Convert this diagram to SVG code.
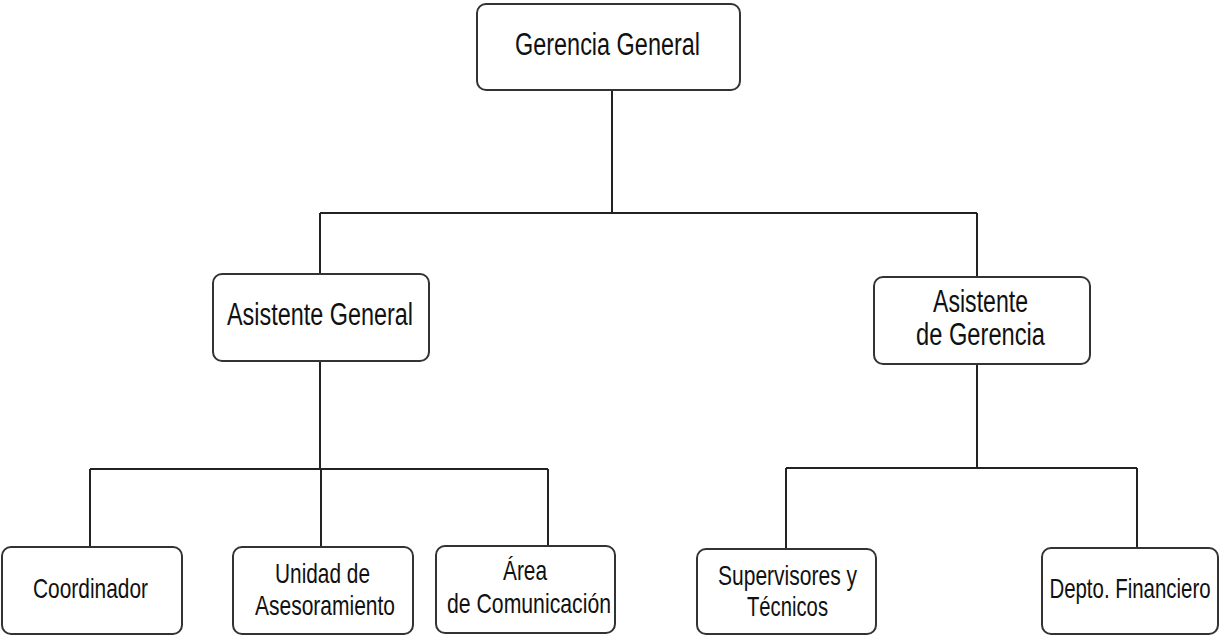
<svg xmlns="http://www.w3.org/2000/svg" width="1220" height="635" viewBox="0 0 1220 635">
<style>
.box{fill:#fff;stroke:#333;stroke-width:2}
.ln{fill:none;stroke:#222;stroke-width:2}
text{font-family:"Liberation Sans",Arial,sans-serif;fill:#111;text-anchor:middle}
.t1{font-size:31px}
.t2{font-size:28px}
</style>
<rect width="1220" height="635" fill="#fff"/>
<g id="connectors">
<path class="ln" d="M612 90V213M320 213H977M320 213V274M977 213V277"/>
<path class="ln" d="M320 361V469M90 469H548M90 469V547M321 469V547M548 469V546"/>
<path class="ln" d="M977 364V468M786 468H1137M786 468V549M1137 468V548"/>
</g>
<g id="gerencia-general">
<rect class="box" x="477" y="4" width="263" height="86" rx="9"/>
<text class="t1" x="607.5" y="55" textLength="185" lengthAdjust="spacingAndGlyphs">Gerencia General</text>
</g>
<g id="asistente-general">
<rect class="box" x="213" y="274" width="216" height="87" rx="9"/>
<text class="t1" x="320" y="325" textLength="186" lengthAdjust="spacingAndGlyphs">Asistente General</text>
</g>
<g id="asistente-gerencia">
<rect class="box" x="874" y="277" width="216" height="87" rx="9"/>
<text class="t1" x="980.5" y="312" textLength="95" lengthAdjust="spacingAndGlyphs">Asistente</text>
<text class="t1" x="980.5" y="345" textLength="129" lengthAdjust="spacingAndGlyphs">de Gerencia</text>
</g>
<g id="coordinador">
<rect class="box" x="2" y="547" width="180" height="87" rx="9"/>
<text class="t2" x="90.5" y="598" textLength="115" lengthAdjust="spacingAndGlyphs">Coordinador</text>
</g>
<g id="unidad-asesoramiento">
<rect class="box" x="233" y="547" width="180" height="87" rx="9"/>
<text class="t2" x="322.5" y="583" textLength="95" lengthAdjust="spacingAndGlyphs">Unidad de</text>
<text class="t2" x="325" y="615" textLength="140" lengthAdjust="spacingAndGlyphs">Asesoramiento</text>
</g>
<g id="area-comunicacion">
<rect class="box" x="436" y="546" width="179" height="87" rx="9"/>
<text class="t2" x="525" y="580" textLength="44" lengthAdjust="spacingAndGlyphs">Área</text>
<text class="t2" x="529" y="613" textLength="164" lengthAdjust="spacingAndGlyphs">de Comunicación</text>
</g>
<g id="supervisores-tecnicos">
<rect class="box" x="697" y="549" width="179" height="85" rx="9"/>
<text class="t2" x="787.5" y="585" textLength="139" lengthAdjust="spacingAndGlyphs">Supervisores y</text>
<text class="t2" x="787.5" y="616" textLength="81" lengthAdjust="spacingAndGlyphs">Técnicos</text>
</g>
<g id="depto-financiero">
<rect class="box" x="1042" y="548" width="176" height="86" rx="9"/>
<text class="t2" transform="translate(1130 598) scale(0.73 1)" x="0" y="0">Depto. Financiero</text>
</g>
</svg>
